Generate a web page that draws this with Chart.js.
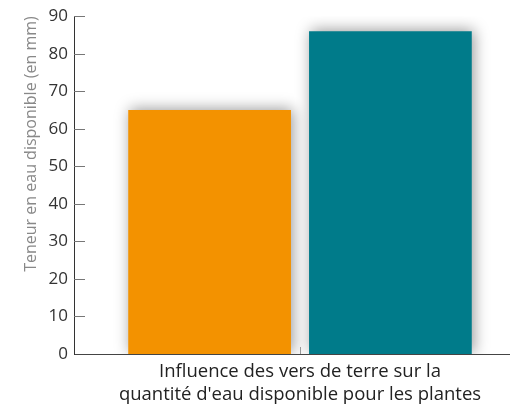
<!DOCTYPE html>
<html lang="fr">
<head>
<meta charset="utf-8">
<title>Teneur en eau disponible</title>
<script src="https://cdn.jsdelivr.net/npm/chart.js@4/dist/chart.umd.min.js"></script>
<style>
  html, body { margin: 0; padding: 0; background: #fff; overflow: hidden; }
  #wrap { width: 526px; height: 406px; }
</style>
</head>
<body>
<div id="wrap"><canvas id="chart"></canvas></div>
<script>
// one category, two bars side by side
const categories = [['Influence des vers de terre sur la', "quantité d'eau disponible pour les plantes"]];
const seriesNames = ['Sans vers de terre', 'Avec vers de terre'];
const withoutWorms = [65];
const withWorms = [86];
const barColors = ['#f39200', '#007b8a'];

const yMin = 0;
const yMax = 90;
const yStep = 10;

const FONT = "'Open Sans', 'DejaVu Sans', sans-serif";

// soft shadow behind the bars
const barShadow = {
  id: 'barShadow',
  beforeDatasetsDraw(chart) {
    const ctx = chart.ctx;
    ctx.save();
    ctx.shadowColor = 'rgba(0, 0, 0, 0.4)';
    ctx.shadowBlur = 14;
    ctx.shadowOffsetX = 2;
    ctx.shadowOffsetY = -1;
  },
  afterDatasetsDraw(chart) {
    chart.ctx.restore();
  }
};

// tick marks pointing into the plot area
const innerTicks = {
  id: 'innerTicks',
  afterDraw(chart) {
    const ctx = chart.ctx;
    const area = chart.chartArea;
    const y = chart.scales.y;
    const x = chart.scales.x;
    ctx.save();
    ctx.lineWidth = 1;
    ctx.strokeStyle = '#777';
    y.ticks.forEach((t, i) => {
      if (i === 0) return;
      const py = Math.round(y.getPixelForTick(i)) + 0.5;
      ctx.beginPath();
      ctx.moveTo(area.left, py);
      ctx.lineTo(area.left + 11, py);
      ctx.stroke();
    });
    ctx.strokeStyle = '#999';
    const px = Math.round(x.getPixelForTick(0)) + 0.5;
    ctx.beginPath();
    ctx.moveTo(px, area.bottom);
    ctx.lineTo(px, area.bottom - 7);
    ctx.stroke();
    ctx.restore();
  }
};

new Chart(document.getElementById('chart'), {
  type: 'bar',
  data: {
    labels: categories,
    datasets: [
      { label: seriesNames[0], data: withoutWorms, backgroundColor: barColors[0], borderWidth: 0 },
      { label: seriesNames[1], data: withWorms, backgroundColor: barColors[1], borderWidth: 0 }
    ]
  },
  options: {
    responsive: true,
    maintainAspectRatio: false,
    animation: false,
    layout: { padding: { top: 15, right: 0, left: 0, bottom: 0 } },
    plugins: {
      legend: { display: false },
      tooltip: { enabled: false }
    },
    scales: {
      x: {
        grid: { display: false, drawTicks: false },
        border: { display: true, color: '#444', width: 1 },
        ticks: {
          color: '#222',
          padding: 6,
          font: { family: FONT, size: 18.5, lineHeight: 1.25 },
          maxRotation: 0
        },
        afterFit(scale) { scale.height = 52; }
      },
      y: {
        min: yMin,
        max: yMax,
        grid: { display: false, drawTicks: false },
        border: { display: true, color: '#333', width: 1 },
        ticks: {
          stepSize: yStep,
          color: '#333',
          padding: 6,
          font: { family: FONT, size: 17 }
        },
        title: {
          display: true,
          text: 'Teneur en eau disponible (en mm)',
          align: 'end',
          color: '#888',
          padding: { top: 22, bottom: 0 },
          font: { family: FONT, size: 16 }
        },
        afterFit(scale) { scale.width = 74; }
      }
    }
  },
  plugins: [barShadow, innerTicks]
});
</script>
</body>
</html>
